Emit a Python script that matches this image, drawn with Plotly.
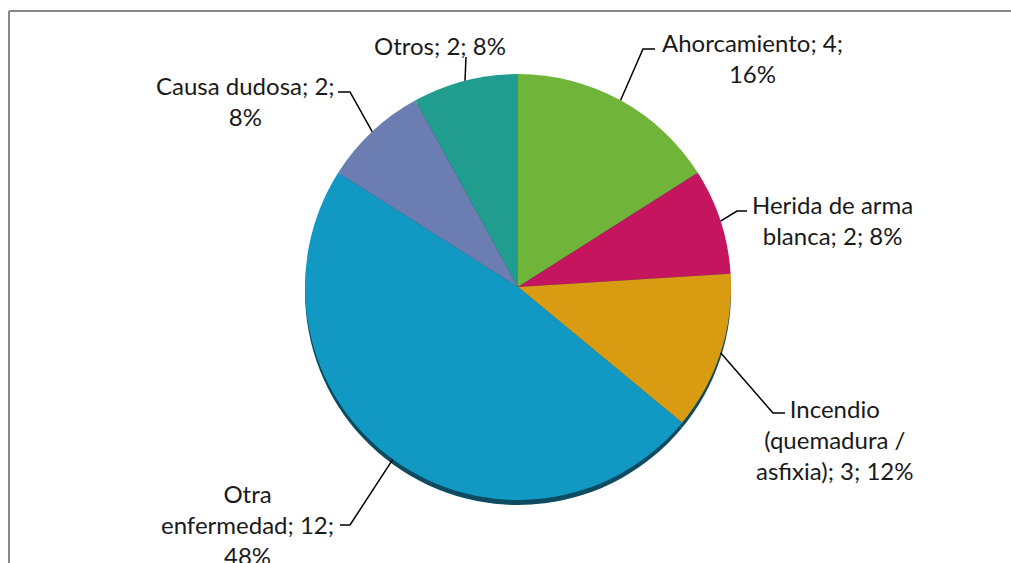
import math
import plotly.graph_objects as go

# Data
categories = ["Ahorcamiento", "Herida de arma blanca", "Incendio (quemadura / asfixia)",
              "Otra enfermedad", "Causa dudosa", "Otros"]
values = [4, 2, 3, 12, 2, 2]
label_texts = [
    "Ahorcamiento; 4;<br>16%",
    "Herida de arma<br>blanca; 2; 8%",
    "Incendio<br>(quemadura /<br>asfixia); 3; 12%",
    "Otra<br>enfermedad; 12;<br>48%",
    "Causa dudosa; 2;<br>8%",
    "Otros; 2; 8%",
]
colors = ["#70b43a", "#c5155f", "#d99b12", "#1299c3", "#6c7db1", "#209d8e"]

# Layout (pixel coordinates)
W, H = 1011, 563
CX, CY, R = 518, 287, 213
SHADOW_DY = 5
label_pos = [(752, 58), (832, 220), (835, 439), (247, 524), (245, 101), (440, 45)]
elbows = [(643, 49), (737, 211), (773, 413), (350, 525), (350, 92), (466, 57)]
ends = [(655, 49), (747, 211), (785, 413), (340, 525), (338, 92), (466, 57)]

dom_x = [(CX - R) / W, (CX + R) / W]
dom_y = [(H - CY - R) / H, (H - CY + R) / H]
dom_y_sh = [(H - CY - SHADOW_DY - R) / H, (H - CY - SHADOW_DY + R) / H]

fig = go.Figure()
fig.add_trace(go.Pie(
    labels=categories, values=values, sort=False, direction="clockwise", rotation=0,
    marker=dict(colors=["#0c4b60"] * len(values), line=dict(width=0)),
    textinfo="none", hoverinfo="skip", showlegend=False,
    domain=dict(x=dom_x, y=dom_y_sh),
))
fig.add_trace(go.Pie(
    labels=categories, values=values, sort=False, direction="clockwise", rotation=0,
    marker=dict(colors=colors, line=dict(width=0)),
    textinfo="none", showlegend=False,
    domain=dict(x=dom_x, y=dom_y),
))

shapes = []
annotations = []
total = sum(values)
cum = 0
for i, v in enumerate(values):
    mid = (cum + v / 2) / total * 2 * math.pi
    cum += v
    ax = CX + R * math.sin(mid)
    ay = CY - R * math.cos(mid)
    ex, ey = elbows[i]
    tx, ty = ends[i]
    shapes.append(dict(type="path", xref="x", yref="y",
                       path=f"M{ax:.1f},{ay:.1f} L{ex},{ey} L{tx},{ty}",
                       line=dict(color="black", width=1.5)))
    lx, ly = label_pos[i]
    annotations.append(dict(x=lx, y=ly, xref="x", yref="y", text=label_texts[i],
                            showarrow=False, xanchor="center", yanchor="middle",
                            align="center", font=dict(family="Lato", size=24, color="#1a1a1a")))

# chart frame: only left and top edges fall inside the crop
fx, fy = 9 / W, 1 - 11 / H
shapes.append(dict(type="line", xref="paper", yref="paper", x0=fx, x1=fx, y0=-0.2, y1=fy,
                   line=dict(color="#878787", width=2)))
shapes.append(dict(type="line", xref="paper", yref="paper", x0=fx, x1=1.3, y0=fy, y1=fy,
                   line=dict(color="#878787", width=2)))

fig.update_layout(
    width=W, height=H, margin=dict(l=0, r=0, t=0, b=0),
    paper_bgcolor="white", plot_bgcolor="rgba(0,0,0,0)",
    xaxis=dict(range=[0, W], visible=False, fixedrange=True),
    yaxis=dict(range=[H, 0], visible=False, fixedrange=True),
    shapes=shapes, annotations=annotations,
)
fig.write_html("out.html", config={"displayModeBar": False},
               post_script="document.body.style.margin='0px';"
                           "document.body.style.overflow='hidden';"
                           "document.documentElement.style.overflow='hidden';")
